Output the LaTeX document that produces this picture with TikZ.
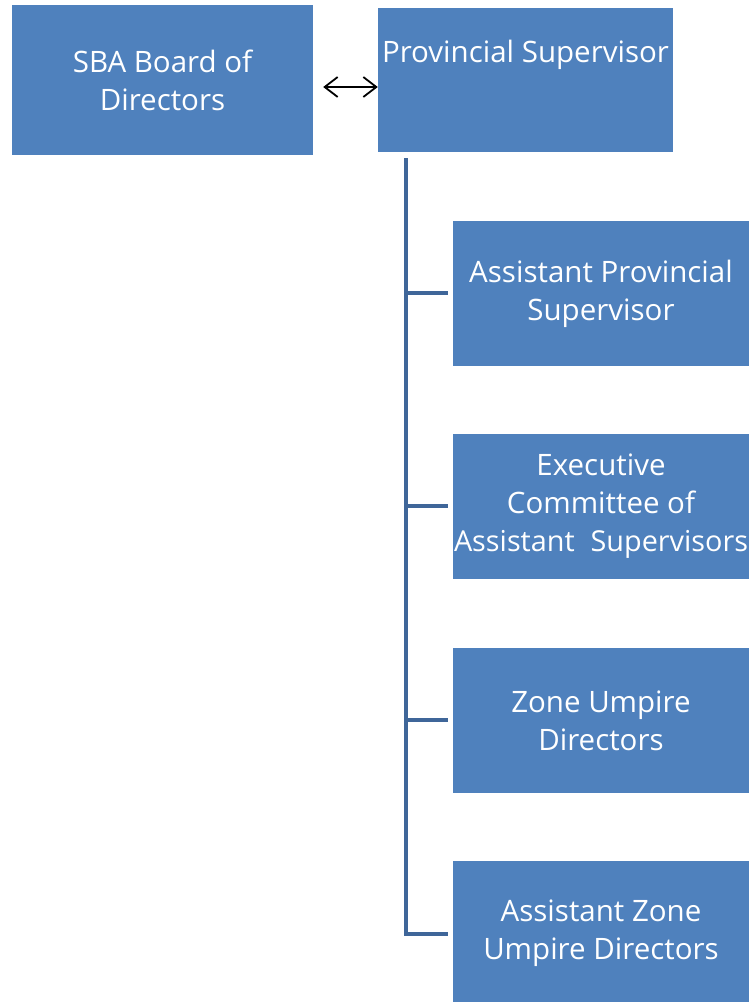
\documentclass[tikz,border=0pt]{standalone}
\usepackage{fontspec}
\setmainfont{Open Sans}
\usetikzlibrary{arrows.meta}
\definecolor{boxblue}{HTML}{4F81BD}
\definecolor{lineblue}{HTML}{3F6699}
\begin{document}
\begin{tikzpicture}[x=1pt,y=-1pt,
  orgbox/.style={fill=boxblue,draw=none,text=white,inner sep=0pt,
    font=\fontsize{29.5}{38}\selectfont,align=center},
  branch/.style={draw=lineblue,line width=4.5pt}]
\useasboundingbox (0,0) rectangle (754,1002);
\node[orgbox,minimum width=301pt,minimum height=150pt] (sba) at (162.5,80) {SBA Board of\\ Directors};
\node[orgbox,minimum width=295pt,minimum height=144pt] (prov) at (525.5,80) {};
\node[text=white,font=\fontsize{29.5}{38}\selectfont,inner sep=0pt,anchor=base] (provt) at (525.5,62) {Provincial Supervisor};
\node[orgbox,minimum width=296pt,minimum height=145pt] (aps) at (601,293.5) {Assistant Provincial\\ Supervisor};
\node[orgbox,minimum width=296pt,minimum height=145pt] (exe) at (601,506.5) {Executive\\ Committee of\\ \makebox[0pt]{\fontsize{28.8}{38}\selectfont Assistant\hspace{0.55em}Supervisors}};
\node[orgbox,minimum width=296pt,minimum height=145pt] (zud) at (601,720.5) {Zone Umpire\\ Directors};
\node[orgbox,minimum width=296pt,minimum height=145pt] (azud) at (601,933) {Assistant Zone\\ Umpire Directors};
\coordinate (top) at (406,158);
\coordinate (b1) at (406,293);
\coordinate (b2) at (406,506);
\coordinate (b3) at (406,720);
\coordinate (b4) at (406,934);
\draw[branch] (top) -- (b4) -- ([xshift=-5pt]azud.west |- b4);
\draw[branch] (b1) -- ([xshift=-5pt]aps.west |- b1);
\draw[branch] (b2) -- ([xshift=-5pt]exe.west |- b2);
\draw[branch] (b3) -- ([xshift=-5pt]zud.west |- b3);
\draw[line width=1.8pt,{Straight Barb[length=13pt,width=20pt]}-{Straight Barb[length=13pt,width=20pt]}] ([xshift=10pt]sba.east |- 0,87) -- (prov.west |- 0,87);
\end{tikzpicture}
\end{document}
